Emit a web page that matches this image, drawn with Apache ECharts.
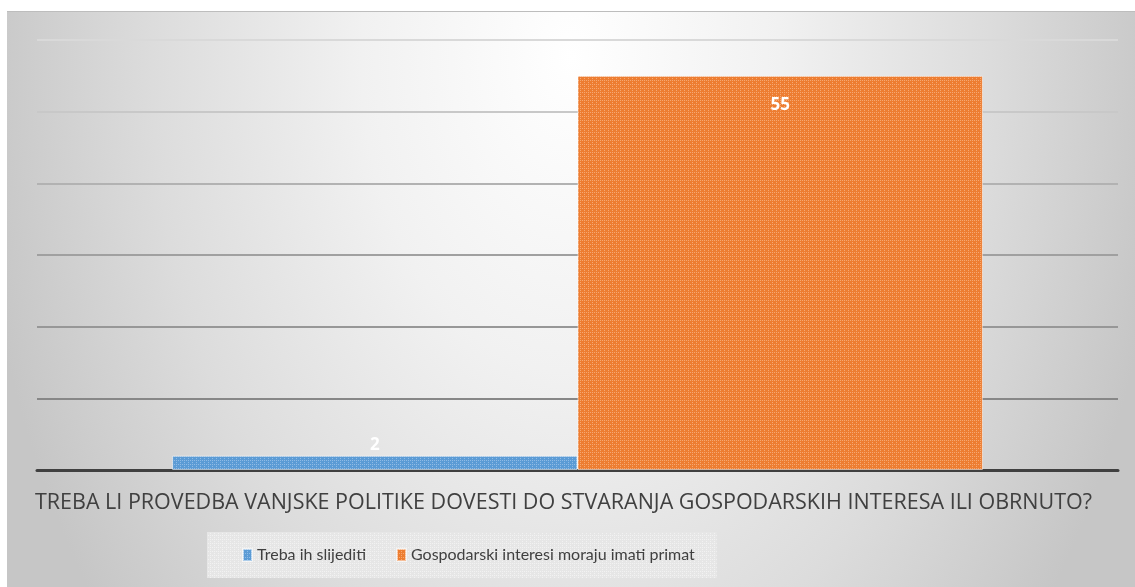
<!DOCTYPE html>
<html>
<head>
<meta charset="utf-8">
<script src="https://cdn.jsdelivr.net/npm/echarts@6/dist/echarts.min.js"></script>
<style>
  html, body { margin: 0; padding: 0; background: #ffffff; }
  #root { width: 1135px; height: 587px; }
</style>
</head>
<body>
<div id="root"></div>
<script>
// podaci
var categories = ['TREBA LI PROVEDBA VANJSKE POLITIKE DOVESTI DO STVARANJA GOSPODARSKIH INTERESA ILI OBRNUTO?'];
var seriesNames = ['Treba ih slijediti', 'Gospodarski interesi moraju imati primat'];
var slijediti = [2];
var primat = [55];
var yTicks = [0, 10, 20, 30, 40, 50, 60];

// mala tekstura kao u Wordu
function pattern(base, light) {
  var c = document.createElement('canvas');
  c.width = 4; c.height = 4;
  var ctx = c.getContext('2d');
  ctx.fillStyle = base;
  ctx.fillRect(0, 0, 4, 4);
  ctx.fillStyle = light;
  ctx.fillRect(0, 0, 1, 1);
  ctx.fillRect(2, 0, 1, 1);
  ctx.fillRect(0, 2, 1, 1);
  return { image: c, repeat: 'repeat' };
}

var blue = pattern('#5b9bd5', '#8fbbe6');
var orange = pattern('#ed7d31', '#f6a872');
var legendBg = pattern('#e6e6e6', '#f2f2f2');

var labelStyle = {
  show: true,
  color: '#ffffff',
  fontWeight: 'bold',
  fontSize: 17,
  fontFamily: 'Open Sans'
};

var option = {
  animation: false,
  graphic: [
    {
      type: 'rect',
      z: -10,
      x: 7,
      y: 11,
      scaleY: 1.5,
      silent: true,
      shape: { x: 0, y: 0, width: 1128, height: 384 },
      style: {
        fill: {
          type: 'radial', x: 0.5, y: 0.08, r: 1.56,
          colorStops: [
            { offset: 0, color: '#ffffff' },
            { offset: 0.35, color: '#f1f1f1' },
            { offset: 0.7, color: '#dcdcdc' },
            { offset: 1, color: '#c6c6c6' }
          ]
        }
      }
    },
    {
      type: 'line',
      z: -9,
      silent: true,
      shape: { x1: 7, y1: 11.5, x2: 1135, y2: 11.5 },
      style: { stroke: '#bdbdbd', lineWidth: 1 }
    }
  ],
  grid: { left: 37, right: 17, top: 40, bottom: 117 },
  legend: {
    data: seriesNames,
    left: 207,
    top: 532,
    padding: [15, 22, 15, 35],
    backgroundColor: legendBg,
    itemWidth: 9,
    itemHeight: 12,
    itemGap: 30,
    icon: 'rect',
    textStyle: { fontSize: 16, color: '#404040', fontFamily: 'Lato' }
  },
  xAxis: {
    type: 'category',
    data: categories,
    axisTick: { show: false },
    axisLine: { lineStyle: { color: '#404040', width: 3 } },
    axisLabel: {
      color: '#404040', fontSize: 21.5, fontFamily: 'Open Sans', margin: 22,
      padding: [0, 28, 0, 0]
    }
  },
  yAxis: {
    type: 'value',
    min: yTicks[0],
    max: yTicks[yTicks.length - 1],
    interval: 10,
    axisLabel: { show: false },
    axisLine: { show: false },
    axisTick: { show: false },
    splitLine: {
      lineStyle: {
        width: 2,
        color: ['#404040', '#878787', '#979797', '#a0a0a0', '#b2b2b2', '#c8c8c8', '#d9d9d9']
      }
    }
  },
  series: [
    {
      name: seriesNames[0],
      type: 'bar',
      data: slijediti,
      barGap: '0%',
      barCategoryGap: '25%',
      itemStyle: { color: blue, borderColor: 'rgba(255,255,255,0.5)', borderWidth: 1 },
      label: Object.assign({ position: 'top', distance: 2 }, labelStyle)
    },
    {
      name: seriesNames[1],
      type: 'bar',
      data: primat,
      barGap: '0%',
      barCategoryGap: '25%',
      itemStyle: { color: orange, borderColor: 'rgba(255,255,255,0.5)', borderWidth: 1 },
      label: Object.assign({ position: 'insideTop', distance: 21 }, labelStyle)
    }
  ]
};

var myChart = echarts.init(document.getElementById('root'));
myChart.setOption(option);
</script>
</body>
</html>
